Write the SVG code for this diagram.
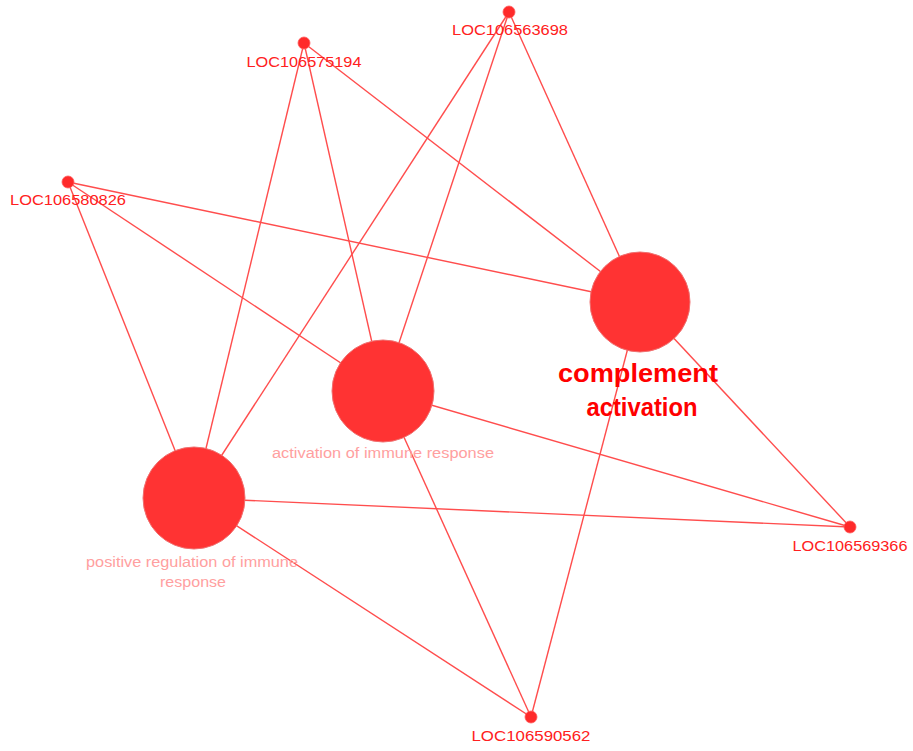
<svg xmlns="http://www.w3.org/2000/svg" width="913" height="751" viewBox="0 0 913 751">
<style>
.e{stroke:#ff4d4d;stroke-width:1.4;fill:none}
.gene{fill:#ff2a2a;stroke:#ff5a5a;stroke-width:0.8}
.term{fill:#ff3333;stroke:#f07070;stroke-width:1}
.gl{font-family:"Liberation Sans",Arial,sans-serif;font-size:14px;fill:#ff2020;text-anchor:middle}
.tl{font-family:"Liberation Sans",Arial,sans-serif;font-size:14px;fill:#ffa0a0;text-anchor:middle}
.bl{font-family:"Liberation Sans",Arial,sans-serif;font-size:25px;font-weight:bold;fill:#ff0000;text-anchor:middle}
</style>
<rect width="913" height="751" fill="#ffffff"/>
<g id="connectors">
<line class="e" x1="509" y1="12" x2="640" y2="302"/>
<line class="e" x1="509" y1="12" x2="383" y2="391"/>
<line class="e" x1="509" y1="12" x2="194" y2="498"/>
<line class="e" x1="304" y1="43" x2="640" y2="302"/>
<line class="e" x1="304" y1="43" x2="383" y2="391"/>
<line class="e" x1="304" y1="43" x2="194" y2="498"/>
<line class="e" x1="68" y1="182" x2="640" y2="302"/>
<line class="e" x1="68" y1="182" x2="383" y2="391"/>
<line class="e" x1="68" y1="182" x2="194" y2="498"/>
<line class="e" x1="850" y1="527" x2="640" y2="302"/>
<line class="e" x1="850" y1="527" x2="383" y2="391"/>
<line class="e" x1="850" y1="527" x2="194" y2="498"/>
<line class="e" x1="531" y1="717" x2="640" y2="302"/>
<line class="e" x1="531" y1="717" x2="383" y2="391"/>
<line class="e" x1="531" y1="717" x2="194" y2="498"/>
</g>
<g id="complement-activation">
<circle class="term" cx="640" cy="302" r="50"/>
<text class="bl" x="638" y="382" textLength="160" lengthAdjust="spacingAndGlyphs">complement</text>
<text class="bl" x="642" y="416" textLength="111" lengthAdjust="spacingAndGlyphs">activation</text>
</g>
<g id="activation-of-immune-response">
<circle class="term" cx="383" cy="391" r="51"/>
<text class="tl" x="383" y="458" textLength="222" lengthAdjust="spacingAndGlyphs">activation of immune response</text>
</g>
<g id="positive-regulation-of-immune-response">
<circle class="term" cx="194" cy="498" r="51"/>
<text class="tl" x="192" y="567" textLength="212" lengthAdjust="spacingAndGlyphs">positive regulation of immune</text>
<text class="tl" x="193" y="587" textLength="66" lengthAdjust="spacingAndGlyphs">response</text>
</g>
<g id="LOC106563698">
<circle class="gene" cx="509" cy="12" r="6"/>
<text class="gl" x="510" y="35" textLength="116" lengthAdjust="spacingAndGlyphs">LOC106563698</text>
</g>
<g id="LOC106575194">
<circle class="gene" cx="304" cy="43" r="6"/>
<text class="gl" x="304" y="67" textLength="115" lengthAdjust="spacingAndGlyphs">LOC106575194</text>
</g>
<g id="LOC106580826">
<circle class="gene" cx="68" cy="182" r="6"/>
<text class="gl" x="68" y="205" textLength="116" lengthAdjust="spacingAndGlyphs">LOC106580826</text>
</g>
<g id="LOC106569366">
<circle class="gene" cx="850" cy="527" r="6"/>
<text class="gl" x="850" y="551" textLength="115" lengthAdjust="spacingAndGlyphs">LOC106569366</text>
</g>
<g id="LOC106590562">
<circle class="gene" cx="531" cy="717" r="6"/>
<text class="gl" x="531" y="741" textLength="119" lengthAdjust="spacingAndGlyphs">LOC106590562</text>
</g>
</svg>
